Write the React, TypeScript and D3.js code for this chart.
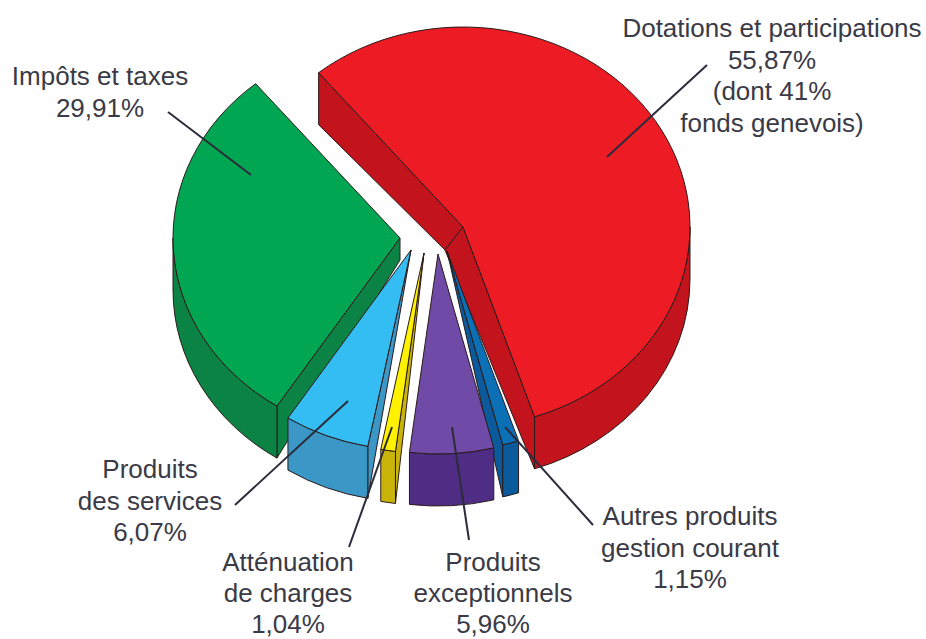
import * as d3 from "d3";

const WIDTH = 926;
const HEIGHT = 639;

// slices, clockwise from the red one
const categories = [
  "Dotations et participations",
  "Autres produits gestion courant",
  "Produits exceptionnels",
  "Atténuation de charges",
  "Produits des services",
  "Impôts et taxes",
];
const values = [55.87, 1.15, 5.96, 1.04, 6.07, 29.91];
const topColors = ["#ed1c24", "#0b70b5", "#6f4aa6", "#fff200", "#33bdf2", "#00a651"];
const sideColors = ["#c3131d", "#0b5a9c", "#4f2d85", "#c9b50a", "#3a97c6", "#0b8344"];

// how far each slice is pulled out of the centre
const explodeX = [33, 17, 8, -6, -19, -30];
const explodeY = [-18, 6, 9, 8, 5, -7];
// where the lower corner of the wedge sits relative to the upper one
const innerDepthX = [-18, 0, 0, 0, 0, 0];
const innerDepthY = [23, 0, 0, 0, 0, 22];
const drawOrder = [0, 5, 4, 3, 1, 2];

const cx = 430;
const cy = 245;
const rx = 227;
const ry = 200;
const depth = 52;
const startAngle = (-39.5 * Math.PI) / 180;

const labels = [
  { lines: ["Dotations et participations", "55,87%", "(dont 41%", "fonds genevois)"], x: 772, y: 37 },
  { lines: ["Impôts et taxes", "29,91%"], x: 100, y: 85 },
  { lines: ["Produits", "des services", "6,07%"], x: 150, y: 478 },
  { lines: ["Atténuation", "de charges", "1,04%"], x: 288, y: 571 },
  { lines: ["Produits", "exceptionnels", "5,96%"], x: 493, y: 571 },
  { lines: ["Autres produits", "gestion courant", "1,15%"], x: 690, y: 525 },
];

const leaders = [
  [707, 65, 607, 157],
  [168, 112, 251, 175],
  [235, 505, 348, 401],
  [349, 547, 392, 427],
  [469, 540, 452, 427],
  [593, 525, 505, 427],
];

const pie = d3
  .pie<number>()
  .sort(null)
  .startAngle(startAngle)
  .endAngle(startAngle + 2 * Math.PI);

const topArc = d3.arc<d3.PieArcDatum<number>>().innerRadius(0).outerRadius(rx);

const rim = (ax: number, ay: number, angle: number): [number, number] => [
  ax + rx * Math.sin(angle),
  ay - ry * Math.cos(angle),
];

export default function App() {
  const arcs = pie(values);

  return (
    <svg
      width={WIDTH}
      height={HEIGHT}
      style={{ position: "absolute", left: 0, top: 0, background: "#fff" }}
    >
      {drawOrder.map((i) => {
        const d = arcs[i];
        const ax = cx + explodeX[i];
        const ay = cy + explodeY[i];
        const lowerX = ax + innerDepthX[i];
        const lowerY = ay + innerDepthY[i];

        const face = (angle: number) => {
          const [x, y] = rim(ax, ay, angle);
          return `M${ax},${ay}L${x},${y}L${x},${y + depth}L${lowerX},${lowerY}Z`;
        };

        const from = Math.max(d.startAngle, Math.PI / 2);
        const to = Math.min(d.endAngle, (3 * Math.PI) / 2);
        const [x0, y0] = rim(ax, ay, from);
        const [x1, y1] = rim(ax, ay, to);
        const band =
          `M${x0},${y0}A${rx},${ry} 0 0 1 ${x1},${y1}` +
          `L${x1},${y1 + depth}A${rx},${ry} 0 0 0 ${x0},${y0 + depth}Z`;

        return (
          <g key={categories[i]} stroke="#2a1a1a" strokeWidth={1} strokeLinejoin="round">
            {Math.sin(d.startAngle) < 0 && <path d={face(d.startAngle)} fill={sideColors[i]} />}
            {Math.sin(d.endAngle) > 0 && <path d={face(d.endAngle)} fill={sideColors[i]} />}
            <path d={band} fill={sideColors[i]} />
            <path
              d={topArc(d) ?? ""}
              fill={topColors[i]}
              vectorEffect="non-scaling-stroke"
              transform={`translate(${ax},${ay}) scale(1,${ry / rx})`}
            />
          </g>
        );
      })}

      {leaders.map(([x1, y1, x2, y2], i) => (
        <line key={i} x1={x1} y1={y1} x2={x2} y2={y2} stroke="#2b2b3a" strokeWidth={2} />
      ))}

      {labels.map((label) => (
        <text
          key={label.lines[0] + label.x}
          x={label.x}
          y={label.y}
          textAnchor="middle"
          fontFamily="'Liberation Sans', Arial, sans-serif"
          fontSize={26}
          fill="#3a3a46"
        >
          {label.lines.map((line, i) => (
            <tspan key={i} x={label.x} dy={i === 0 ? 0 : label.y > 560 ? 31 : 31.5}>
              {line}
            </tspan>
          ))}
        </text>
      ))}
    </svg>
  );
}
